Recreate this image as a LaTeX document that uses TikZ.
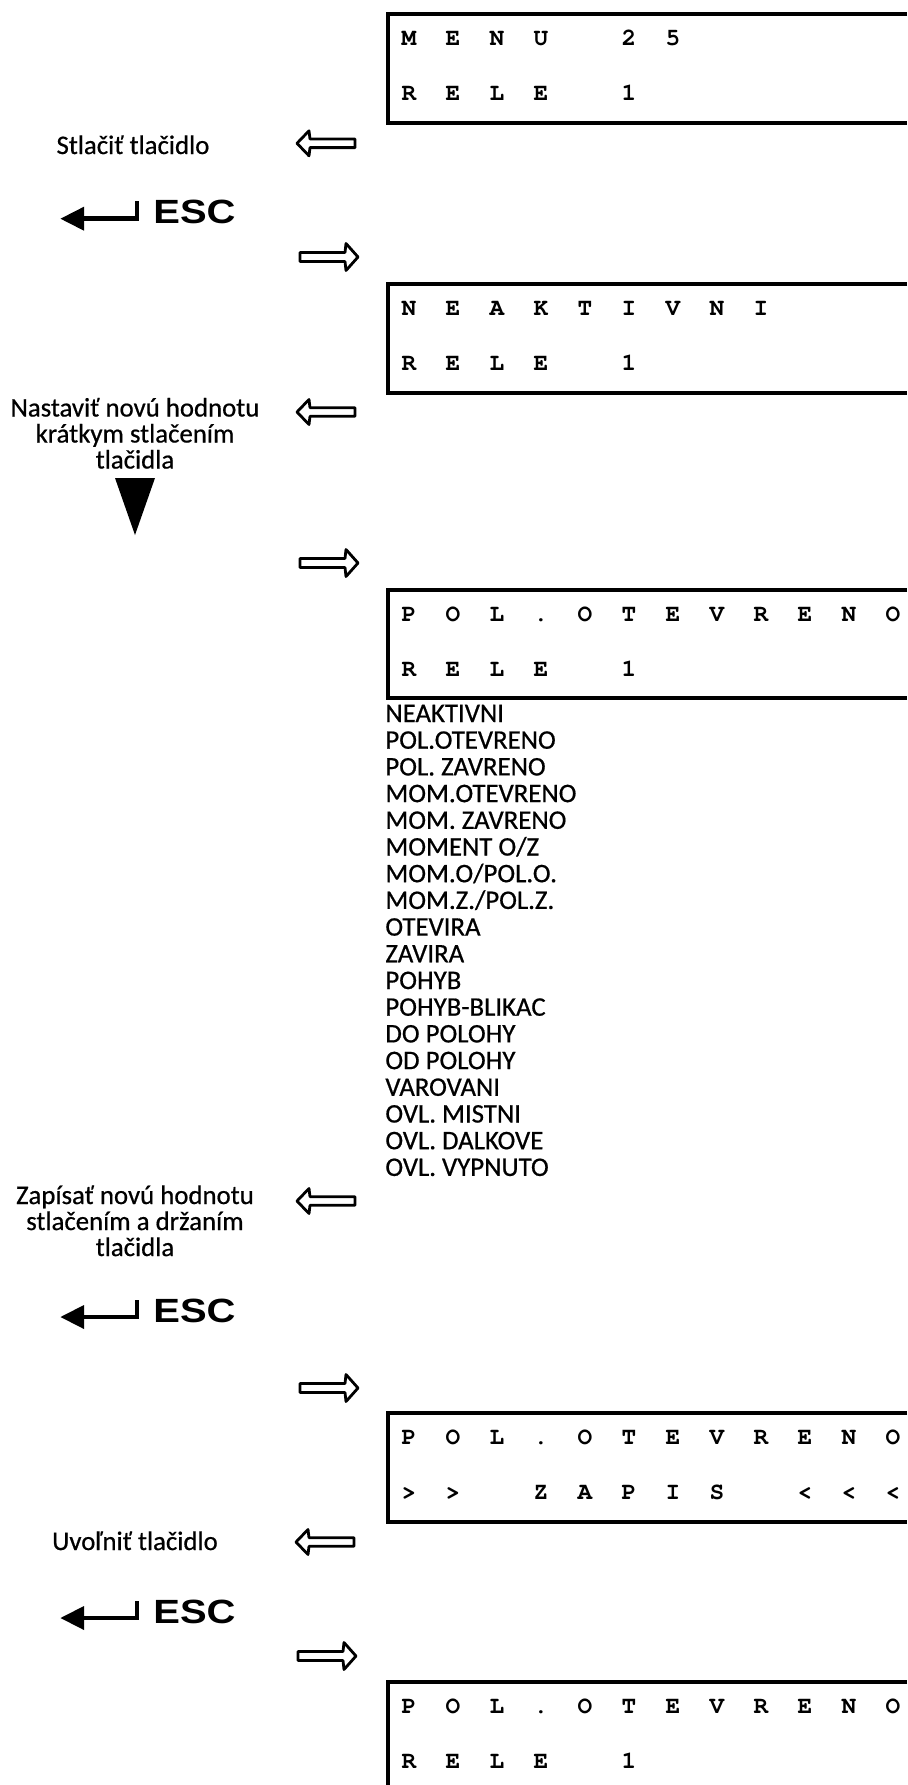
\documentclass[tikz,border=0pt]{standalone}
\usepackage{fontspec}
\setmainfont{Carlito}[FakeBold=0.6]
\newfontfamily\lcdfont{TeX Gyre Cursor}
\newfontfamily\keyfont{Liberation Sans}
\usepackage{tikz}
\usetikzlibrary{calc}

\tikzset{
    lcd/.style={font=\lcdfont\bfseries\fontsize{12.2}{12.2}\selectfont, anchor=base, inner sep=0pt},
    lbl/.style={font=\fontsize{13.4}{13.4}\selectfont, anchor=base, inner sep=0pt},
    optitem/.style={lbl, anchor=base west},
    lcdframe/.style={line width=2.15pt},
    hollow/.style={line width=1.4pt, fill=white, line join=round},
    backarr/.pic={
        \draw[hollow] (0,0) -- (12,-12.5) -- (13,-4.3) -- (58,-4.3) -- (58,4.3) -- (13,4.3) -- (12,12.5) -- cycle;
    },
    fwdarr/.pic={
        \draw[hollow] (0,0) -- (-12,-13.5) -- (-13,-4.5) -- (-58,-4.5) -- (-58,4.5) -- (-13,4.5) -- (-12,13.5) -- cycle;
    },
    esckey/.pic={
        \fill (60.5,0) -- (84,-12) -- (84,12) -- cycle;
        \draw[line width=2.4pt] (82,0) -| (137,-17.5);
        \node[font=\keyfont\bfseries\fontsize{16.8}{16.8}\selectfont, inner sep=0pt] (-txt) at (194.5,-6.5) {\scalebox{1.19}[1]{ESC}};
    },
}

\begin{document}
\begin{tikzpicture}[x=0.5pt, y=-0.5pt]
    \useasboundingbox[fill=white] (0,0) rectangle (907,1785);

    % display 1
    \draw[lcdframe] (907,14) -| (388,123) -- (907,123);
    \foreach \c [count=\i from 0] in {M,E,N,U,,2,5}
        \node[lcd] (menu\i) at (409+44*\i,45) {\c};
    \foreach \c [count=\i from 0] in {R,E,L,E,,1}
        \node[lcd] (relA\i) at (409+44*\i,100) {\c};

    \node[lbl] (press) at (133,154) {Stlačiť tlačidlo};
    \pic at (297,143.3) {backarr};
    \pic (escA) at (0,218.7) {esckey};
    \pic at (358,257) {fwdarr};

    % display 2
    \draw[lcdframe] (907,284) -| (388,393) -- (907,393);
    \foreach \c [count=\i from 0] in {N,E,A,K,T,I,V,N,I}
        \node[lcd] (neak\i) at (409+44*\i,315) {\c};
    \foreach \c [count=\i from 0] in {R,E,L,E,,1}
        \node[lcd] (relB\i) at (409+44*\i,370) {\c};

    \foreach \t [count=\i from 0] in {Nastaviť novú hodnotu, krátkym stlačením, tlačidla}
        \node[lbl] (set\i) at (135,416.5+26*\i) {\t};
    \pic at (297,412) {backarr};
    \fill (115,478) -- (155,478) -- (135,535) -- cycle;
    \pic at (358,563) {fwdarr};

    % display 3
    \draw[lcdframe] (907,590) -| (388,698) -- (907,698);
    \foreach \c [count=\i from 0] in {P,O,L,.,O,T,E,V,R,E,N,O}
        \node[lcd] (polA\i) at (409+44*\i,621) {\c};
    \foreach \c [count=\i from 0] in {R,E,L,E,,1}
        \node[lcd] (relC\i) at (409+44*\i,676) {\c};

    \foreach \t [count=\i from 0] in {NEAKTIVNI, POL.OTEVRENO, POL. ZAVRENO, MOM.OTEVRENO,
        MOM. ZAVRENO, MOMENT O/Z, MOM.O/POL.O., MOM.Z./POL.Z., OTEVIRA, ZAVIRA, POHYB,
        POHYB-BLIKAC, DO POLOHY, OD POLOHY, VAROVANI, OVL. MISTNI, OVL. DALKOVE, OVL. VYPNUTO}
        \node[optitem] (opt\i) at (385,722+26.7*\i) {\t};

    \foreach \t [count=\i from 0] in {Zapísať novú hodnotu, stlačením a držaním, tlačidla}
        \node[lbl] (save\i) at (135,1204+26*\i) {\t};
    \pic at (297,1201) {backarr};
    \pic (escB) at (0,1317) {esckey};
    \pic at (358,1388) {fwdarr};

    % display 4
    \draw[lcdframe] (907,1413) -| (388,1522) -- (907,1522);
    \foreach \c [count=\i from 0] in {P,O,L,.,O,T,E,V,R,E,N,O}
        \node[lcd] (polB\i) at (409+44*\i,1444) {\c};
    \foreach \c [count=\i from 0] in {>,>,,Z,A,P,I,S,,<,<,<}
        \node[lcd] (zap\i) at (409+44*\i,1499) {\c};

    \node[lbl] (release) at (135,1550) {Uvoľniť tlačidlo};
    \pic at (296,1542) {backarr};
    \pic (escC) at (0,1618) {esckey};
    \pic at (356,1656) {fwdarr};

    % display 5
    \draw[lcdframe] (907,1682) -| (388,1792) -- (907,1792);
    \foreach \c [count=\i from 0] in {P,O,L,.,O,T,E,V,R,E,N,O}
        \node[lcd] (polC\i) at (409+44*\i,1713) {\c};
    \foreach \c [count=\i from 0] in {R,E,L,E,,1}
        \node[lcd] (relD\i) at (409+44*\i,1768) {\c};
\end{tikzpicture}
\end{document}
